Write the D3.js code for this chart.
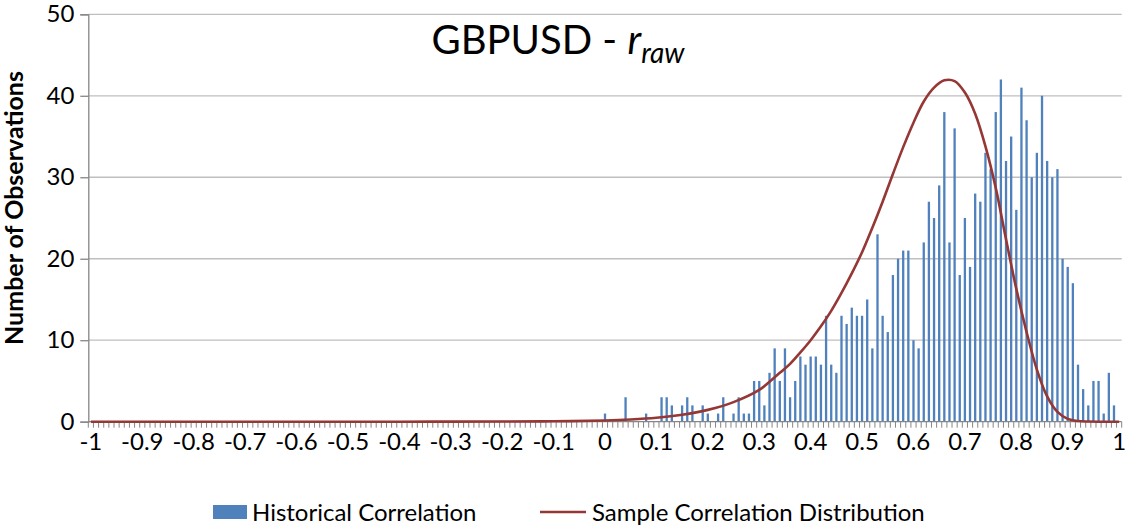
<!DOCTYPE html>
<html>
<head>
<meta charset="utf-8">
<script src="https://cdn.jsdelivr.net/npm/d3@7"></script>
<style>
  body { margin: 0; background: #fff; }
  text { font-family: Lato, "Open Sans", sans-serif; fill: #000; }
</style>
</head>
<body>
<div id="chart"></div>
<script>
// histogram of historical correlation, one bin per 0.01 from -1 to 1
var binLabels = d3.range(-100, 101).map(function(k) { return String(+(k / 100).toFixed(2)); });

var histCounts = [
  0,0,0,0,0,0,0,0,0,0, 0,0,0,0,0,0,0,0,0,0,
  0,0,0,0,0,0,0,0,0,0, 0,0,0,0,0,0,0,0,0,0,
  0,0,0,0,0,0,0,0,0,0, 0,0,0,0,0,0,0,0,0,0,
  0,0,0,0,0,0,0,0,0,0, 0,0,0,0,0,0,0,0,0,0,
  0,0,0,0,0,0,0,0,0,0, 0,0,0,0,0,0,0,0,0,0,
  1,0,0,0,3,0,0,0,1,0, 0,3,3,2,0,2,3,2,0,2,
  1,0,1,3,0,1,3,1,1,5, 5,2,6,9,5,9,3,5,8,7,
  8,8,7,13,7,6,13,12,14,13, 13,15,9,23,13,11,18,20,21,21,
  10,9,22,27,25,29,38,22,36,18, 25,19,28,27,33,31,38,42,32,35,
  26,41,37,30,33,40,32,30,31,20, 19,17,7,4,2,5,5,1,6,2,
  0
];

// sample correlation distribution
var distR = [-1, -0.6, -0.4, -0.3, -0.2, -0.1, 0, 0.05, 0.1, 0.15, 0.2, 0.25, 0.3, 0.32, 0.34, 0.36, 0.38,
  0.4, 0.42, 0.44, 0.46, 0.48, 0.5, 0.52, 0.54, 0.56, 0.58, 0.6, 0.62, 0.64, 0.66, 0.68, 0.7, 0.72,
  0.74, 0.76, 0.78, 0.8, 0.82, 0.84, 0.86, 0.88, 0.9, 0.92, 0.94, 0.96, 1];
var distN = [0, 0, 0, 0.01, 0.02, 0.05, 0.15, 0.27, 0.48, 0.85, 1.45, 2.4, 3.9, 4.9, 6.0, 7.1, 8.5,
  10.0, 11.7, 13.6, 15.8, 18.2, 20.8, 23.8, 27.0, 30.4, 33.7, 36.7, 39.3, 41.0, 41.9, 41.8, 40.4, 37.8,
  33.8, 28.7, 22.4, 16.3, 11.0, 6.4, 3.1, 1.2, 0.35, 0.08, 0.02, 0, 0];

var xTickLabels = ["-1", "-0.9", "-0.8", "-0.7", "-0.6", "-0.5", "-0.4", "-0.3", "-0.2", "-0.1", "0",
  "0.1", "0.2", "0.3", "0.4", "0.5", "0.6", "0.7", "0.8", "0.9", "1"];
var yTicks = [0, 10, 20, 30, 40, 50];

var width = 1128, height = 527;
var plotLeft = 88.3, plotRight = 1121.7, plotTop = 14.3, plotBottom = 421.7;

var svg = d3.select('#chart').append('svg')
            .attr("width", width)
            .attr("height", height);

var x = d3.scaleBand().domain(binLabels).range([plotLeft, plotRight]).padding(0);
var bw = x.bandwidth();
var xr = d3.scaleLinear().domain([-1, 1]).range([x("-1") + bw / 2, x("1") + bw / 2]);
var y = d3.scaleLinear().domain([0, 50]).range([plotBottom, plotTop]);

// gridlines
svg.append("g")
    .selectAll("line")
    .data(yTicks.slice(1))
    .enter().append("line")
    .attr("x1", plotLeft).attr("x2", plotRight)
    .attr("y1", function(d) { return y(d); })
    .attr("y2", function(d) { return y(d); })
    .attr("stroke", "#bfbfbf")
    .attr("stroke-width", 1.3);

// y axis
var yAxis = svg.append("g")
    .attr("transform", "translate(" + plotLeft + ",0)")
    .call(d3.axisLeft(y).tickValues(yTicks).tickSize(8).tickPadding(6));
yAxis.select(".domain").attr("stroke", "#868686").attr("stroke-width", 1.3);
yAxis.selectAll(".tick line").attr("stroke", "#868686").attr("stroke-width", 1.3);
yAxis.selectAll("text").attr("font-size", 24).attr("font-family", "Lato").attr("fill", "#000");

// bars
var barW = 2.3;
svg.append("g")
    .selectAll("rect")
    .data(histCounts)
    .enter().append("rect")
    .attr("x", function(d, i) { return x(binLabels[i]) + bw / 2 - barW / 2; })
    .attr("y", function(d) { return y(d); })
    .attr("width", barW)
    .attr("height", function(d) { return plotBottom - y(d); })
    .attr("fill", "#4f81bd");

// x axis: a tick between every bin, labels every 0.1
var xAxis = svg.append("g");
xAxis.append("line")
    .attr("x1", plotLeft).attr("x2", plotRight)
    .attr("y1", plotBottom).attr("y2", plotBottom)
    .attr("stroke", "#868686").attr("stroke-width", 1.3);
xAxis.selectAll(".minor")
    .data(d3.range(binLabels.length + 1))
    .enter().append("line")
    .attr("class", "minor")
    .attr("x1", function(i) { return plotLeft + i * bw; })
    .attr("x2", function(i) { return plotLeft + i * bw; })
    .attr("y1", plotBottom).attr("y2", plotBottom + 6)
    .attr("stroke", "#868686").attr("stroke-width", 1);
xAxis.selectAll("text")
    .data(xTickLabels)
    .enter().append("text")
    .attr("x", function(d) { return x(d) + bw / 2; })
    .attr("y", 450)
    .attr("text-anchor", "middle")
    .attr("font-size", 24)
    .text(function(d) { return d; });

// distribution curve
var line = d3.line()
    .x(function(d, i) { return xr(distR[i]); })
    .y(function(d) { return y(d); })
    .curve(d3.curveCatmullRom.alpha(0.5));

svg.append("path")
    .datum(distN)
    .attr("d", line)
    .attr("fill", "none")
    .attr("stroke", "#953735")
    .attr("stroke-width", 2.6);

// title
var title = svg.append("text")
    .attr("x", 558)
    .attr("y", 54)
    .attr("text-anchor", "middle")
    .attr("font-size", 40);
title.append("tspan").text("GBPUSD - ");
title.append("tspan").attr("font-style", "italic").text("r");
title.append("tspan").attr("font-style", "italic").attr("font-size", 28).attr("dy", 9).text("raw");

// y title
svg.append("text")
    .attr("transform", "translate(23,208) rotate(-90)")
    .attr("text-anchor", "middle")
    .attr("font-size", 25)
    .attr("font-weight", "bold")
    .text("Number of Observations");

// legend
var legend = svg.append("g");
legend.append("rect")
    .attr("x", 213).attr("y", 505).attr("width", 34).attr("height", 14)
    .attr("fill", "#4f81bd");
legend.append("text")
    .attr("x", 252).attr("y", 521)
    .attr("font-size", 24)
    .text("Historical Correlation");
legend.append("line")
    .attr("x1", 540).attr("x2", 586)
    .attr("y1", 512).attr("y2", 512)
    .attr("stroke", "#953735").attr("stroke-width", 2.6);
legend.append("text")
    .attr("x", 592).attr("y", 521)
    .attr("font-size", 24)
    .text("Sample Correlation Distribution");
</script>
</body>
</html>
